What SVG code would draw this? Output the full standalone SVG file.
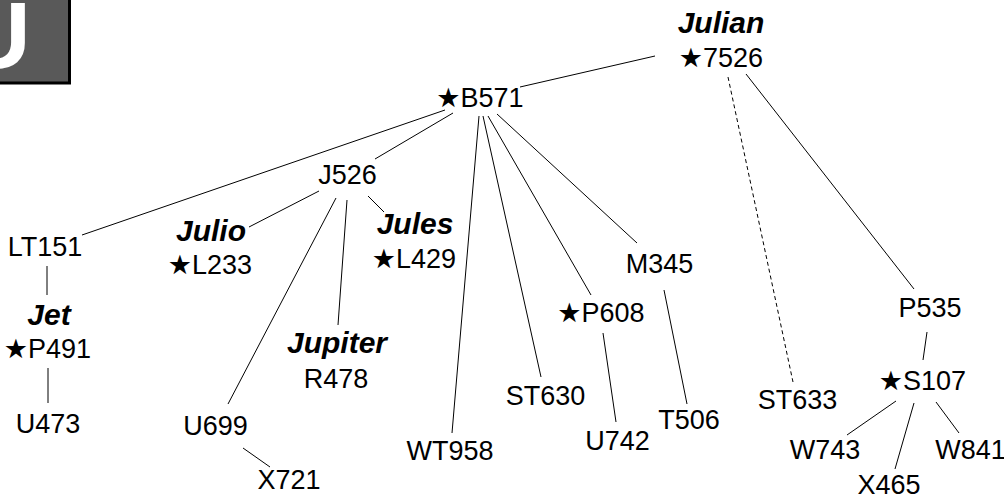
<svg xmlns="http://www.w3.org/2000/svg" width="1004" height="498" viewBox="0 0 1004 498">
<style>
text{font-family:"Liberation Sans","DejaVu Sans",Arial,sans-serif;fill:#000;text-anchor:middle}
.c{font-size:27px}
.n{font-size:30px;font-weight:bold;font-style:italic}
.e{stroke:#000;stroke-width:1;fill:none}
.d{stroke-dasharray:4,3}
</style>
<rect width="1004" height="498" fill="#fff"/>
<g id="logo">
<rect x="-10" y="-10" width="79.5" height="93" fill="#595959" stroke="#000" stroke-width="3"/>
<text x="-38" y="68" style="font-size:95px;font-weight:bold;fill:#fff;text-anchor:start">U</text>
</g>
<g id="connectors">
<line class="e" x1="520" y1="87" x2="655" y2="56"/>
<line class="e d" x1="728" y1="77" x2="793" y2="382"/>
<line class="e" x1="746" y1="74" x2="914" y2="289"/>
<line class="e" x1="445" y1="110" x2="82" y2="235"/>
<line class="e" x1="453" y1="113" x2="375" y2="159"/>
<line class="e" x1="479" y1="116" x2="452" y2="433"/>
<line class="e" x1="483" y1="116" x2="541" y2="377"/>
<line class="e" x1="488" y1="116" x2="591" y2="295"/>
<line class="e" x1="497" y1="114" x2="637" y2="243"/>
<line class="e" x1="319" y1="191" x2="249" y2="227"/>
<line class="e" x1="336" y1="198" x2="228" y2="404"/>
<line class="e" x1="347" y1="200" x2="338" y2="325"/>
<line class="e" x1="368" y1="196" x2="384" y2="212"/>
<line class="e" x1="47" y1="266" x2="47" y2="295"/>
<line class="e" x1="48" y1="368" x2="48" y2="403"/>
<line class="e" x1="243" y1="448" x2="270" y2="467"/>
<line class="e" x1="603" y1="333" x2="616" y2="422"/>
<line class="e" x1="664" y1="290" x2="687" y2="404"/>
<line class="e" x1="927" y1="332" x2="923" y2="360"/>
<line class="e" x1="896" y1="401" x2="847" y2="435"/>
<line class="e" x1="914" y1="403" x2="895" y2="469"/>
<line class="e" x1="936" y1="402" x2="959" y2="433"/>
</g>
<g id="n7526"><text class="n" x="721" y="33">Julian</text><text class="c" x="721" y="67">★7526</text></g>
<g id="nB571"><text class="c" x="480" y="107">★B571</text></g>
<g id="nJ526"><text class="c" x="347.5" y="184">J526</text></g>
<g id="nLT151"><text class="c" x="45" y="256">LT151</text></g>
<g id="nL233"><text class="n" x="211" y="241">Julio</text><text class="c" x="210" y="274">★L233</text></g>
<g id="nL429"><text class="n" x="415" y="234">Jules</text><text class="c" x="414" y="268">★L429</text></g>
<g id="nP491"><text class="n" x="49" y="325">Jet</text><text class="c" x="47.5" y="358">★P491</text></g>
<g id="nR478"><text class="n" x="337" y="353">Jupiter</text><text class="c" x="336" y="388">R478</text></g>
<g id="nU473"><text class="c" x="48" y="433">U473</text></g>
<g id="nU699"><text class="c" x="215.5" y="435">U699</text></g>
<g id="nX721"><text class="c" x="289" y="489">X721</text></g>
<g id="nWT958"><text class="c" x="450" y="460">WT958</text></g>
<g id="nST630"><text class="c" x="545.5" y="405">ST630</text></g>
<g id="nP608"><text class="c" x="601" y="322">★P608</text></g>
<g id="nM345"><text class="c" x="659.5" y="273">M345</text></g>
<g id="nU742"><text class="c" x="617.5" y="450">U742</text></g>
<g id="nT506"><text class="c" x="689" y="429">T506</text></g>
<g id="nP535"><text class="c" x="930" y="317">P535</text></g>
<g id="nS107"><text class="c" x="922.5" y="390">★S107</text></g>
<g id="nST633"><text class="c" x="797.5" y="409">ST633</text></g>
<g id="nW743"><text class="c" x="825" y="459">W743</text></g>
<g id="nW841"><text class="c" x="970.5" y="459">W841</text></g>
<g id="nX465"><text class="c" x="889" y="494">X465</text></g>
</svg>
